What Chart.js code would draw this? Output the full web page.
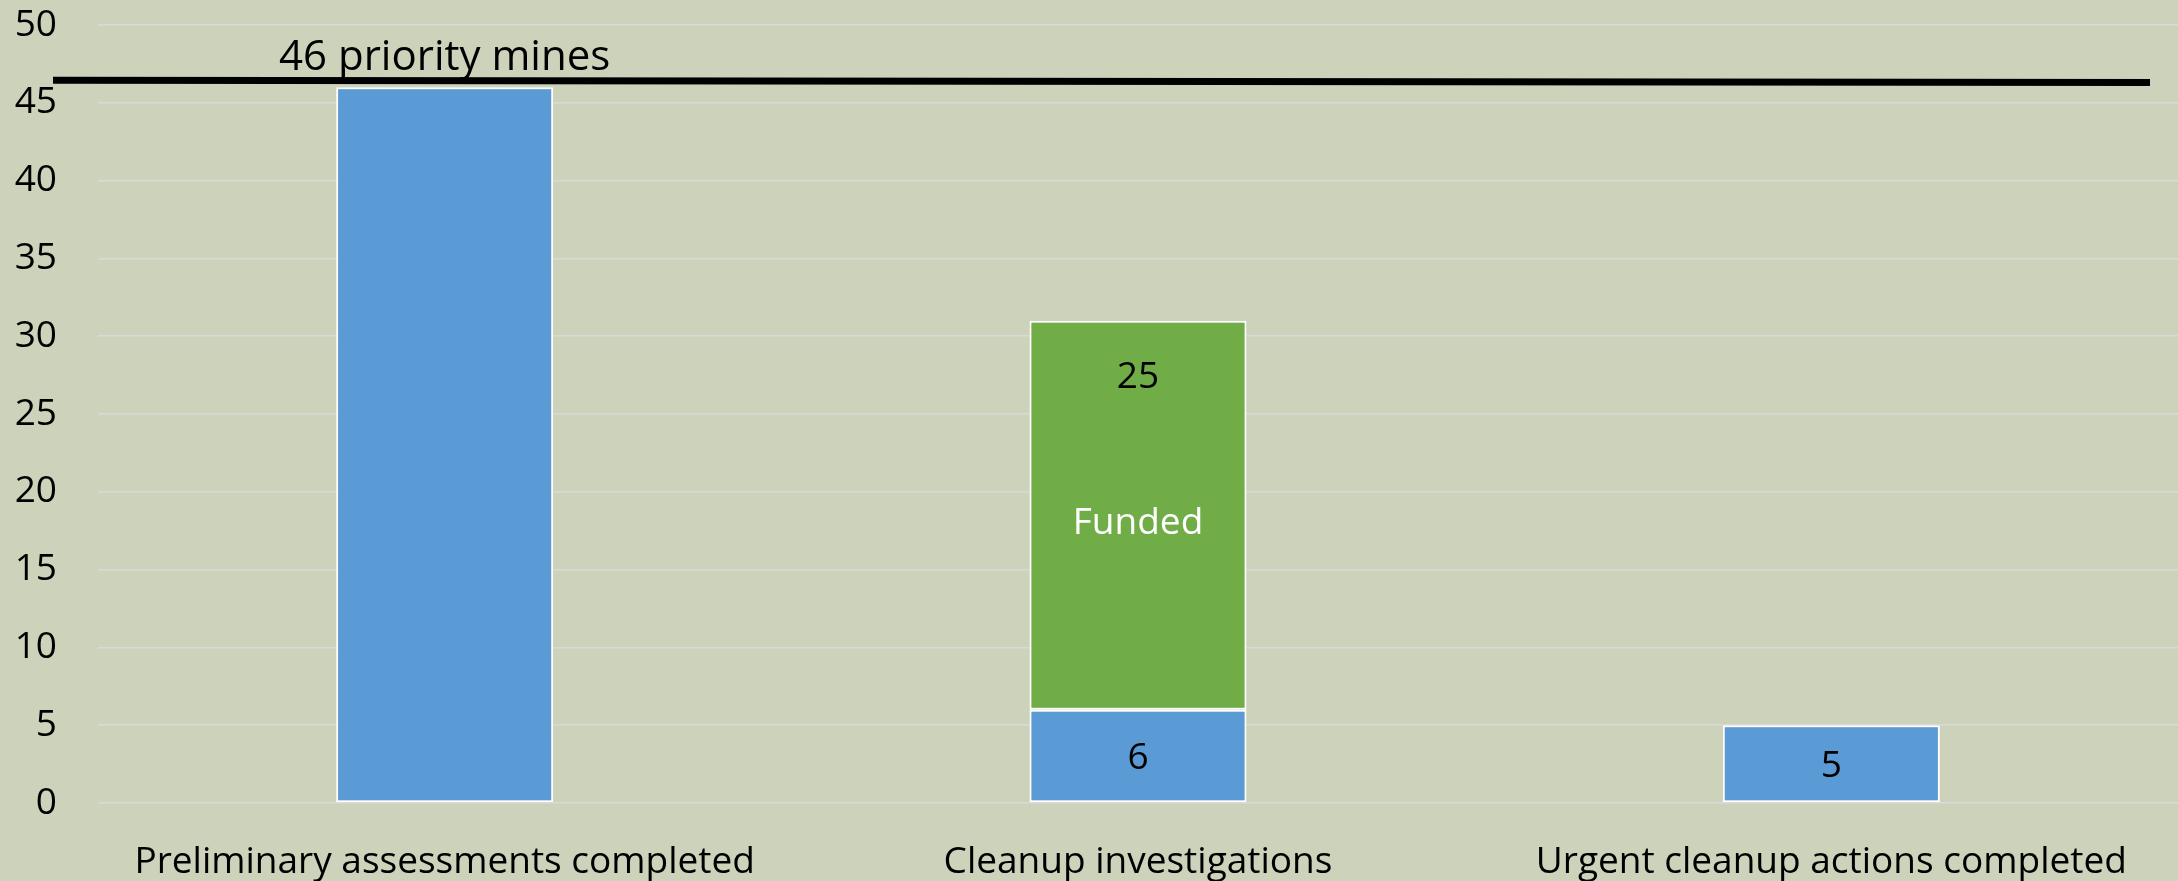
<!DOCTYPE html>
<html>
<head>
<meta charset="utf-8">
<script src="https://cdn.jsdelivr.net/npm/chart.js@4"></script>
<style>
  html, body { margin: 0; padding: 0; background: #cdd2ba; }
  #wrap { width: 2178px; height: 881px; position: relative; }
</style>
</head>
<body>
<div id="wrap"><canvas id="mines"></canvas></div>
<script>
// values
var categories = ['Preliminary assessments completed', 'Cleanup investigations', 'Urgent cleanup actions completed'];
var completed = [46, 6, 5];
var funded = [null, 25, null];
var showCompletedLabel = [false, true, true];
var fundedLabel = 'Funded';
var priorityText = '46 priority mines';
var priorityLine = [46.45, 46.3]; // left end, right end (slightly tilted in the original)
var yMin = 0, yMax = 50, yStep = 5;

Chart.defaults.font.family = "'Open Sans', sans-serif";
Chart.defaults.color = '#000';

var labelPlugin = {
    id: 'barLabels',
    afterDatasetsDraw: function (chart) {
        var ctx = chart.ctx;
        ctx.save();
        ctx.textAlign = 'center';
        ctx.textBaseline = 'middle';
        ctx.font = "37px 'Open Sans'";

        var blue = chart.getDatasetMeta(0).data;
        blue.forEach(function (bar, i) {
            if (!showCompletedLabel[i]) return;
            ctx.fillStyle = '#000';
            ctx.fillText(String(completed[i]), bar.x, (bar.y + bar.base) / 2 + 3);
        });

        var green = chart.getDatasetMeta(1).data;
        green.forEach(function (bar, i) {
            if (funded[i] == null) return;
            ctx.fillStyle = '#000';
            ctx.fillText(String(funded[i]), bar.x, bar.y + 57);
            ctx.fillStyle = '#fff';
            ctx.fillText(fundedLabel, bar.x, (bar.y + bar.base) / 2 + 8);
        });
        ctx.restore();
    },
    afterDraw: function (chart) {
        // the "priority mines" reference line, runs past the plot on the left
        var ctx = chart.ctx;
        var y = chart.scales.y;
        var area = chart.chartArea;
        var x0 = area.left - 45;
        var x1 = area.right - 28;
        ctx.save();
        ctx.strokeStyle = '#000';
        ctx.lineWidth = 7;
        ctx.beginPath();
        ctx.moveTo(x0, y.getPixelForValue(priorityLine[0]));
        ctx.lineTo(x1, y.getPixelForValue(priorityLine[1]));
        ctx.stroke();

        var first = chart.getDatasetMeta(0).data[0];
        ctx.fillStyle = '#000';
        ctx.font = "42px 'Open Sans'";
        ctx.textAlign = 'center';
        ctx.textBaseline = 'alphabetic';
        ctx.fillText(priorityText, first.x, y.getPixelForValue(priorityLine[0]) - 10);
        ctx.restore();
    }
};

var ctx = document.getElementById('mines');
var myChart = new Chart(ctx, {
    type: 'bar',
    plugins: [labelPlugin],
    data: {
        labels: categories,
        datasets: [
            {
                label: 'Completed',
                data: completed,
                backgroundColor: '#5b9bd5',
                borderColor: '#ffffff',
                borderWidth: 2,
                borderSkipped: false,
            },
            {
                label: fundedLabel,
                data: funded,
                backgroundColor: '#70ad47',
                borderColor: '#ffffff',
                borderWidth: 2,
                borderSkipped: false,
            },
        ]
    },
    options: {
        responsive: true,
        maintainAspectRatio: false,
        animation: false,
        layout: {
            padding: { left: 0, right: 0, top: 25, bottom: 0 },
        },
        plugins: {
            legend: { display: false },
            tooltip: { enabled: false },
        },
        datasets: {
            bar: {
                categoryPercentage: 1,
                barPercentage: 0.313,
            },
        },
        scales: {
            x: {
                stacked: true,
                grid: { display: false },
                border: { display: false },
                ticks: {
                    maxRotation: 0,
                    padding: 29,
                    font: { size: 37 },
                },
                afterFit: function (scale) {
                    scale.height = 78;
                },
            },
            y: {
                stacked: true,
                min: yMin,
                max: yMax,
                border: { display: false },
                grid: {
                    color: '#d9d9d9',
                    lineWidth: 1.5,
                    drawTicks: false,
                },
                ticks: {
                    stepSize: yStep,
                    padding: 41,
                    font: { size: 37 },
                },
                afterFit: function (scale) {
                    scale.width = 98;
                    scale.paddingTop = 0;
                    scale.paddingBottom = 0;
                },
            },
        },
    },
});
</script>
</body>
</html>
